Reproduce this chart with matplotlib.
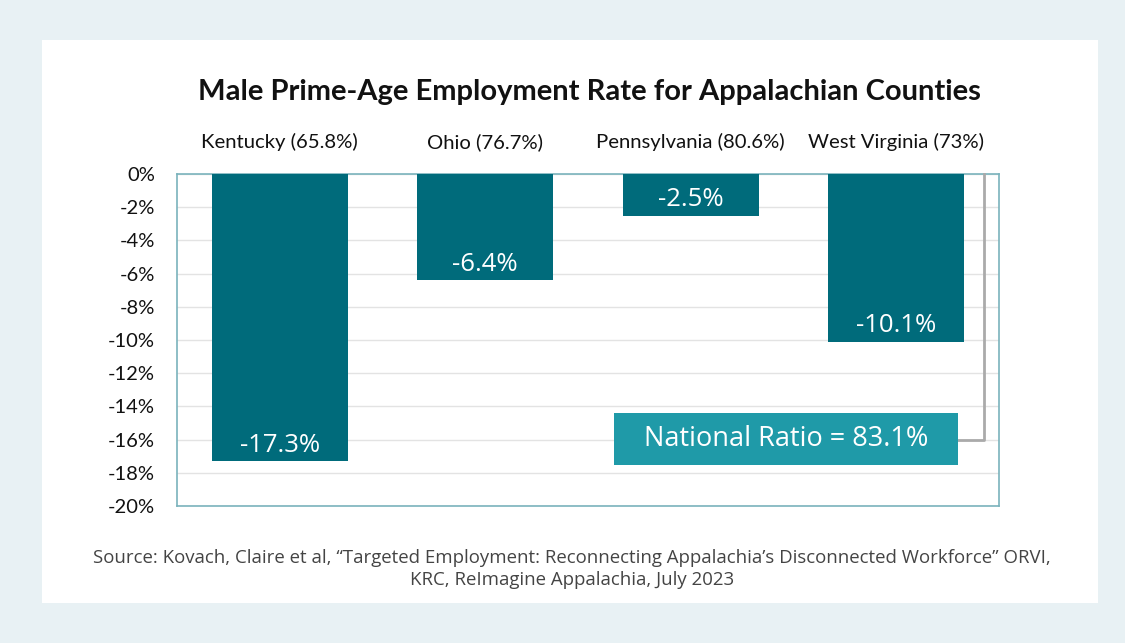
import matplotlib
matplotlib.use("Agg")
import matplotlib.pyplot as plt
from matplotlib.patches import Rectangle
from matplotlib.lines import Line2D

states = ["Kentucky", "Ohio", "Pennsylvania", "West Virginia"]
state_rates = ["65.8%", "76.7%", "80.6%", "73%"]
gaps = [-17.3, -6.4, -2.5, -10.1]
value_labels = ["-17.3%", "-6.4%", "-2.5%", "-10.1%"]
yticks = [0, -2, -4, -6, -8, -10, -12, -14, -16, -18, -20]
ytick_labels = [f"{t}%" for t in yticks]
national_label = "National Ratio = 83.1%"
title = "Male Prime-Age Employment Rate for Appalachian Counties"
source = ("Source: Kovach, Claire et al, \u201cTargeted Employment: Reconnecting Appalachia\u2019s "
          "Disconnected Workforce\u201d ORVI,\nKRC, ReImagine Appalachia, July 2023")

W, H = 1125, 643
fig = plt.figure(figsize=(W / 100, H / 100), dpi=100)
fig.patch.set_facecolor("#e8f1f4")

# white card
fig.patches.append(Rectangle((42 / W, 1 - 603 / H), (1098 - 42) / W, (603 - 40) / H,
                             transform=fig.transFigure, facecolor="white", edgecolor="none", zorder=-5))

ax = fig.add_axes([177 / W, 1 - 506 / H, (999 - 177) / W, (506 - 174) / H])
ax.set_zorder(2)
ax.set_facecolor("white")
x = list(range(len(states)))
ax.bar(x, gaps, width=0.66, color="#006b7b", zorder=3)
ax.set_xlim(-0.5, 3.5)
ax.set_ylim(-20, 0)
ax.set_yticks(yticks)
ax.set_yticklabels(ytick_labels, fontsize=14.5, family="Lato", color="#111111")
ax.tick_params(axis="y", length=0, pad=16)
ax.set_xticks([])
ax.grid(axis="y", color="#e3e3e3", linewidth=1, zorder=0)
ax.set_axisbelow(True)
for s in ax.spines.values():
    s.set_color("#7ab3bc")
    s.set_linewidth(1.2)

for xi, v, lab in zip(x, gaps, value_labels):
    ax.text(xi, v + 0.2, lab, ha="center", va="bottom", color="white",
            fontsize=18.5, family="Open Sans", zorder=4)

for xi, st, r in zip(x, states, state_rates):
    ax.text(xi, 1.9, f"{st} ({r})", ha="center", va="center", fontsize=14.6,
            family="Lato", color="#111111", clip_on=False)

# national ratio box and connector
bx0, bx1 = (614 - 177) / 822, (958 - 177) / 822
by0, by1 = 1 - (465 - 174) / 332, 1 - (413 - 174) / 332
ax.add_patch(Rectangle((bx0, by0), bx1 - bx0, by1 - by0, transform=ax.transAxes,
                       facecolor="#1f9aa8", edgecolor="none", zorder=5, clip_on=False))
ax.text((bx0 + bx1) / 2, (by0 + by1) / 2, national_label, transform=ax.transAxes,
        ha="center", va="center", color="white", fontsize=19.5, family="Open Sans", zorder=6)
ly = 1 - (440 - 174) / 332
lx = (984 - 177) / 822
ax.add_line(Line2D([bx1, lx, lx], [ly, ly, 1.0], transform=ax.transAxes,
                   color="#aaaaaa", linewidth=2, zorder=4, clip_on=False))

fig.text(589 / W, 1 - 92 / H, title, ha="center", va="center", fontsize=21,
         fontweight="bold", family="Lato", color="#111111")
fig.text(572 / W, 1 - 569 / H, source, ha="center", va="center", fontsize=13.4,
         family="Open Sans", color="#444444", linespacing=1.3)

fig.savefig("out.png", dpi=100, facecolor=fig.get_facecolor())
